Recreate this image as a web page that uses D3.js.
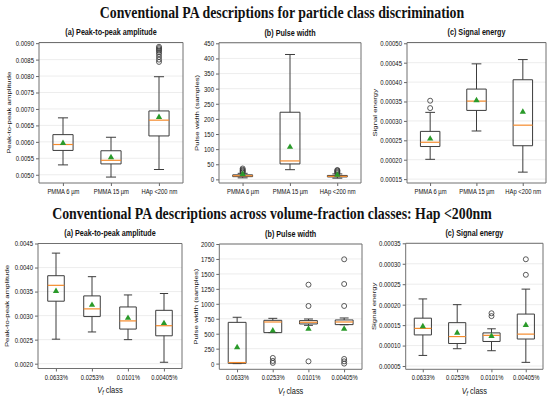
<!DOCTYPE html>
<html>
<head>
<meta charset="utf-8">
<script src="https://cdn.jsdelivr.net/npm/d3@7"></script>
<style>
  body { margin: 0; background: #fff; }
  svg { display: block; }
  svg line, svg rect, svg circle { vector-effect: non-scaling-stroke; }
</style>
</head>
<body>
<div id="chart"></div>
<script>
// ---- data ----
var particleClasses = ['PMMA 6 µm', 'PMMA 15 µm', 'HAp <200 nm'];
var vfClasses = ['0.0633%', '0.0253%', '0.0101%', '0.00405%'];

// each row: [lower whisker, Q1, median, Q3, upper whisker, mean]
var ampByParticle = [
  [0.00530, 0.00574, 0.00592, 0.00622, 0.00673, 0.00596],
  [0.00493, 0.00533, 0.00544, 0.00573, 0.00614, 0.00553],
  [0.00516, 0.00618, 0.00666, 0.00694, 0.00798, 0.00675]
];
var ampByParticleOut = [[], [], [0.00889, 0.00885, 0.00881, 0.00877, 0.00872, 0.00866, 0.00858, 0.00850, 0.00843]];

var widthByParticle = [
  [5, 9, 12, 15, 20, 17],
  [32, 51, 61, 222, 413, 107],
  [4, 8, 10, 13, 18, 15]
];
var widthByParticleOut = [[23, 26, 29, 32, 36], [], [20, 23, 26, 29, 31]];

var energyByParticle = [
  [0.000201, 0.000234, 0.000245, 0.000273, 0.000322, 0.000254],
  [0.000274, 0.000327, 0.000351, 0.000382, 0.000447, 0.000353],
  [0.000168, 0.000236, 0.000289, 0.000406, 0.000458, 0.000323]
];
var energyByParticleOut = [[0.000333, 0.000352], [], []];

var ampByVf = [
  [0.00251, 0.00330, 0.00363, 0.00383, 0.00430, 0.00351],
  [0.00266, 0.00298, 0.00314, 0.00341, 0.00381, 0.00322],
  [0.00250, 0.00272, 0.00289, 0.00318, 0.00343, 0.00295],
  [0.00203, 0.00258, 0.00279, 0.00311, 0.00346, 0.00284]
];
var ampByVfOut = [[], [], [], []];

var widthByVf = [
  [0, 5, 18, 690, 775, 272],
  [518, 518, 696, 724, 757, 551],
  [640, 663, 691, 719, 746, 579],
  [650, 652, 696, 730, 763, 579]
];
var widthByVfOut = [[], [95, 45, 12], [1320, 964, 38], [1744, 1331, 964, 78, 38, 0]];

var energyByVf = [
  [0.0000759, 0.000126, 0.000142, 0.000167, 0.000214, 0.000147],
  [0.0000923, 0.000105, 0.000122, 0.000156, 0.000200, 0.000131],
  [0.0000874, 0.000110, 0.000125, 0.000131, 0.000141, 0.000123],
  [0.000059, 0.000116, 0.000128, 0.000177, 0.000238, 0.000150]
];
var energyByVfOut = [[], [], [0.000172, 0.000179], [0.000273, 0.000311]];

// tick values
var ampParticleTicks = [0.0050, 0.0055, 0.0060, 0.0065, 0.0070, 0.0075, 0.0080, 0.0085, 0.0090];
var widthParticleTicks = [0, 50, 100, 150, 200, 250, 300, 350, 400, 450];
var energyParticleTicks = [0.00015, 0.00020, 0.00025, 0.00030, 0.00035, 0.00040, 0.00045, 0.00050];
var ampVfTicks = [0.0020, 0.0025, 0.0030, 0.0035, 0.0040, 0.0045];
var widthVfTicks = [0, 250, 500, 750, 1000, 1250, 1500, 1750, 2000];
var energyVfTicks = [0.00005, 0.00010, 0.00015, 0.00020, 0.00025, 0.00030, 0.00035];

// ---- drawing ----
// the reference figure is squeezed horizontally, so draw in a wider
// coordinate system and let the viewBox squash it back to 550 px
var W = 550, H = 400, SX = 0.8;
var SANS = '"Liberation Sans", Arial, sans-serif';
var SERIF = '"Liberation Serif", "Times New Roman", serif';

var svg = d3.select('#chart').append('svg')
  .attr('width', W).attr('height', H)
  .attr('viewBox', '0 0 ' + (W / SX) + ' ' + H)
  .attr('preserveAspectRatio', 'none');

function drawPanel(p) {
  var g = svg.append('g');
  var x0 = p.x0 / SX, x1 = p.x1 / SX;
  var x = d3.scalePoint().domain(p.cats).range([x0, x1]).padding(0.5);
  var y = d3.scaleLinear().domain(p.yDomain).range([p.y1, p.y0]);
  var bw = x.step() * p.boxWidth;

  // grid lines
  g.selectAll('.grid').data(p.ticks).enter().append('line')
    .attr('x1', x0).attr('x2', x1)
    .attr('y1', function(d) { return y(d); })
    .attr('y2', function(d) { return y(d); })
    .attr('stroke', '#e8e8e8').attr('stroke-width', 0.8);

  // axes
  var ya = g.append('g').attr('transform', 'translate(' + x0 + ',0)')
    .call(d3.axisLeft(y).tickValues(p.ticks).tickFormat(p.fmt).tickSize(3 / SX).tickPadding(2 / SX));
  var xa = g.append('g').attr('transform', 'translate(0,' + p.y1 + ')')
    .call(d3.axisBottom(x).tickSize(3).tickPadding(3));
  [ya, xa].forEach(function(a) {
    a.select('.domain').remove();
    a.selectAll('line').attr('stroke', '#666');
    a.selectAll('text').attr('font-family', SANS).attr('fill', '#111');
  });
  ya.selectAll('text').attr('font-size', 7.5);
  xa.selectAll('text').attr('font-size', 7.3);

  // frame
  g.append('rect')
    .attr('x', x0).attr('y', p.y0)
    .attr('width', x1 - x0).attr('height', p.y1 - p.y0)
    .attr('fill', 'none').attr('stroke', '#707070').attr('stroke-width', 1);

  var rows = p.stats.map(function(s, i) {
    return { cat: p.cats[i], lo: s[0], q1: s[1], med: s[2], q3: s[3], hi: s[4], mean: s[5], out: p.outliers[i] };
  });

  var boxes = g.selectAll('.box').data(rows).enter().append('g')
    .attr('transform', function(d) { return 'translate(' + x(d.cat) + ',0)'; });

  var ink = '#3c3c3c';
  // whiskers
  boxes.append('line').attr('x1', 0).attr('x2', 0)
    .attr('y1', function(d) { return y(d.hi); }).attr('y2', function(d) { return y(d.q3); })
    .attr('stroke', ink).attr('stroke-width', 1);
  boxes.append('line').attr('x1', 0).attr('x2', 0)
    .attr('y1', function(d) { return y(d.q1); }).attr('y2', function(d) { return y(d.lo); })
    .attr('stroke', ink).attr('stroke-width', 1);
  // caps
  boxes.append('line').attr('x1', -bw / 4).attr('x2', bw / 4)
    .attr('y1', function(d) { return y(d.hi); }).attr('y2', function(d) { return y(d.hi); })
    .attr('stroke', ink).attr('stroke-width', 1);
  boxes.append('line').attr('x1', -bw / 4).attr('x2', bw / 4)
    .attr('y1', function(d) { return y(d.lo); }).attr('y2', function(d) { return y(d.lo); })
    .attr('stroke', ink).attr('stroke-width', 1);
  // box
  boxes.append('rect')
    .attr('x', -bw / 2).attr('width', bw)
    .attr('y', function(d) { return y(d.q3); })
    .attr('height', function(d) { return Math.max(0.5, y(d.q1) - y(d.q3)); })
    .attr('fill', 'none').attr('stroke', ink).attr('stroke-width', 1);
  // median
  boxes.append('line').attr('x1', -bw / 2).attr('x2', bw / 2)
    .attr('y1', function(d) { return y(d.med); }).attr('y2', function(d) { return y(d.med); })
    .attr('stroke', '#f58b2c').attr('stroke-width', 1.2);
  // fliers
  boxes.selectAll('.flier').data(function(d) { return d.out; }).enter().append('ellipse')
    .attr('cx', 0).attr('cy', function(v) { return y(v); })
    .attr('rx', 2.5 / SX).attr('ry', 2.5)
    .attr('fill', 'none').attr('stroke', '#333').attr('stroke-width', 0.8)
    .style('vector-effect', 'non-scaling-stroke');
  // means
  boxes.append('path')
    .attr('d', d3.symbol().type(d3.symbolTriangle).size(17))
    .attr('transform', function(d) { return 'translate(0,' + y(d.mean) + ') scale(' + (1 / SX) + ',1)'; })
    .attr('fill', '#2a9a2a');

  // panel title
  g.append('text')
    .attr('x', (x0 + x1) / 2).attr('y', p.y0 - 7)
    .attr('text-anchor', 'middle')
    .attr('font-family', SANS).attr('font-size', 9).attr('font-weight', 700)
    .attr('fill', '#111')
    .text(p.title);

  // y label
  g.append('text')
    .attr('transform', 'translate(' + (x0 - p.ylabOff / SX) + ',' + ((p.y0 + p.y1) / 2) + ') rotate(-90)')
    .attr('text-anchor', 'middle').attr('dominant-baseline', 'middle')
    .attr('font-family', SANS).attr('font-size', 7.8).attr('fill', '#111')
    .text(p.ylabel);

  // x label
  if (p.xlabel) {
    var t = g.append('text')
      .attr('x', (x0 + x1) / 2).attr('y', p.y1 + 25)
      .attr('text-anchor', 'middle')
      .attr('font-family', SANS).attr('font-size', 9.3).attr('fill', '#111');
    t.append('tspan').attr('font-style', 'italic').text('V');
    t.append('tspan').attr('font-style', 'italic').attr('font-size', 6.5).attr('dy', 2).text('f');
    t.append('tspan').attr('dy', -2).text(' class');
  }
}

var f4 = d3.format('.4f'), f5 = d3.format('.5f'), fi = d3.format('d');

drawPanel({ x0: 39, x1: 183, y0: 42.5, y1: 183, yDomain: [0.00475, 0.00902],
  cats: particleClasses, stats: ampByParticle, outliers: ampByParticleOut, ticks: ampParticleTicks, fmt: f4,
  boxWidth: 0.42, title: '(a) Peak-to-peak amplitude', ylabel: 'Peak-to-peak amplitude', ylabOff: 30 });
drawPanel({ x0: 219, x1: 361, y0: 42.7, y1: 183, yDomain: [-12, 452],
  cats: particleClasses, stats: widthByParticle, outliers: widthByParticleOut, ticks: widthParticleTicks, fmt: fi,
  boxWidth: 0.42, title: '(b) Pulse width', ylabel: 'Pulse width (samples)', ylabOff: 22 });
drawPanel({ x0: 407, x1: 546, y0: 42.5, y1: 183, yDomain: [0.00014, 0.000502],
  cats: particleClasses, stats: energyByParticle, outliers: energyByParticleOut, ticks: energyParticleTicks, fmt: f5,
  boxWidth: 0.42, title: '(c) Signal energy', ylabel: 'Signal energy', ylabOff: 32 });

drawPanel({ x0: 38, x1: 182, y0: 243.5, y1: 368.5, yDomain: [0.0019, 0.0045],
  cats: vfClasses, stats: ampByVf, outliers: ampByVfOut, ticks: ampVfTicks, fmt: f4,
  boxWidth: 0.46, title: '(a) Peak-to-peak amplitude', ylabel: 'Peak-to-peak amplitude', ylabOff: 31, xlabel: true });
drawPanel({ x0: 219.3, x1: 362, y0: 244, y1: 369.3, yDomain: [-95, 2000],
  cats: vfClasses, stats: widthByVf, outliers: widthByVfOut, ticks: widthVfTicks, fmt: fi,
  boxWidth: 0.5, title: '(b) Pulse width', ylabel: 'Pulse width (samples)', ylabOff: 23, xlabel: true });
drawPanel({ x0: 405.7, x1: 543, y0: 243.3, y1: 369.3, yDomain: [0.000042, 0.00035],
  cats: vfClasses, stats: energyByVf, outliers: energyByVfOut, ticks: energyVfTicks, fmt: f5,
  boxWidth: 0.5, title: '(c) Signal energy', ylabel: 'Signal energy', ylabOff: 31, xlabel: true });

// figure headings
svg.append('text')
  .attr('x', 282 / SX).attr('y', 18)
  .attr('text-anchor', 'middle')
  .attr('font-family', SERIF).attr('font-size', 17.3).attr('font-weight', 700)
  .attr('fill', '#111')
  .text('Conventional PA descriptions for particle class discrimination');
svg.append('text')
  .attr('x', 272 / SX).attr('y', 219)
  .attr('text-anchor', 'middle')
  .attr('font-family', SERIF).attr('font-size', 17.3).attr('font-weight', 700)
  .attr('fill', '#111')
  .text('Conventional PA descriptions across volume-fraction classes: Hap <200nm');
</script>
</body>
</html>
